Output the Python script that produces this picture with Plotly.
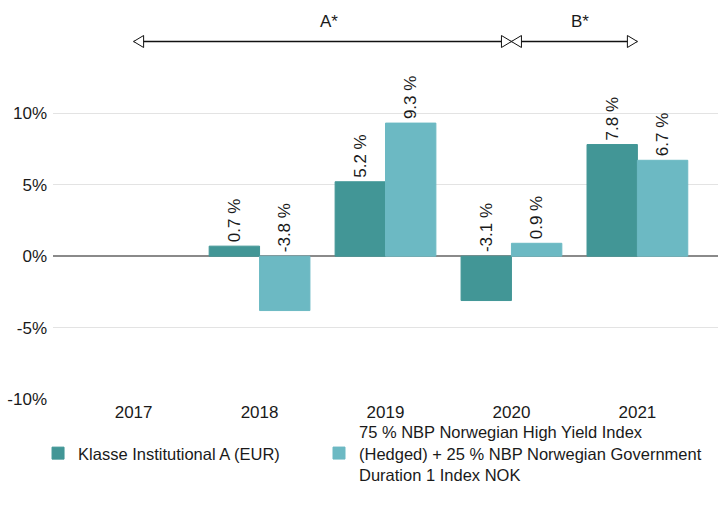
import plotly.graph_objects as go

years = ["2017", "2018", "2019", "2020", "2021"]
fund_name = "Klasse Institutional A (EUR)"
bench_name = "75 % NBP Norwegian High Yield Index<br>(Hedged) + 25 % NBP Norwegian Government<br>Duration 1 Index NOK"
fund_values = [None, 0.7, 5.2, -3.1, 7.8]
bench_values = [None, -3.8, 9.3, 0.9, 6.7]
y_ticks = [-10, -5, 0, 5, 10]
y_ticktext = ["-10%", "-5%", "0%", "5%", "10%"]
periods = [("A*", "2017", "2020"), ("B*", "2020", "2021")]

C_FUND = "#429696"
C_BENCH = "#6cb9c3"
FONT = "Liberation Sans, Arial, sans-serif"
TXT = "#1a1a1a"

fig = go.Figure()
fig.add_trace(go.Bar(x=years, y=fund_values, name=fund_name, legend="legend",
                     marker=dict(color=C_FUND, line=dict(color=C_FUND, width=1))))
fig.add_trace(go.Bar(x=years, y=bench_values, name=bench_name, legend="legend2",
                     marker=dict(color=C_BENCH, line=dict(color=C_BENCH, width=1))))

# value labels (always above the zero line / bar top)
for vals, shift in ((fund_values, -25), (bench_values, 25)):
    for i, v in enumerate(vals):
        if v is None:
            continue
        fig.add_annotation(x=i, y=max(v, 0), xref="x", yref="y",
                           text=f"{v:.1f} %", textangle=-90,
                           showarrow=False, xshift=shift, yshift=2,
                           yanchor="bottom", xanchor="center",
                           font=dict(size=17, color=TXT, family=FONT))

# period arrows
ARROW_Y = 15
shapes = []
for label, a, b in periods:
    ia, ib = years.index(a), years.index(b)
    shapes.append(dict(type="line", xref="x", yref="y", x0=ia, x1=ib, y0=ARROW_Y, y1=ARROW_Y,
                       line=dict(color="#111", width=1.3), layer="above"))
for label, a, b in periods:
    ia, ib = years.index(a), years.index(b)
    shapes.append(dict(type="path", xref="x", yref="y", xsizemode="pixel", ysizemode="pixel",
                       xanchor=ia, yanchor=ARROW_Y, path="M0,0 L10,6 L10,-6 Z",
                       fillcolor="white", line=dict(color="#111", width=1), layer="above"))
    shapes.append(dict(type="path", xref="x", yref="y", xsizemode="pixel", ysizemode="pixel",
                       xanchor=ib, yanchor=ARROW_Y, path="M0,0 L-10,6 L-10,-6 Z",
                       fillcolor="white", line=dict(color="#111", width=1), layer="above"))
    fig.add_annotation(x=(ia + ib) / 2, y=16.4, xref="x", yref="y", text=label,
                       showarrow=False, xshift=6,
                       font=dict(size=17, color=TXT, family=FONT))

leg_common = dict(orientation="h", xanchor="left", yanchor="middle", valign="middle",
                  font=dict(size=16.5, color=TXT, family=FONT), bgcolor="rgba(0,0,0,0)")

fig.update_layout(
    width=724, height=507,
    margin=dict(l=53, r=6, t=0, b=107, autoexpand=False),
    paper_bgcolor="white", plot_bgcolor="white",
    barmode="group", bargap=0.2, bargroupgap=0,
    font=dict(family=FONT, size=17, color=TXT),
    shapes=shapes,
    showlegend=True,
    legend=dict(x=-0.0225, y=-0.1335, **leg_common),
    legend2=dict(x=0.4, y=-0.1335, **leg_common),
    xaxis=dict(type="category", range=[-0.64, 4.64], showgrid=False, showline=False,
               ticks="", tickfont=dict(size=17, color=TXT), fixedrange=True),
    yaxis=dict(range=[-10.05, 17.9], tickvals=y_ticks, ticktext=y_ticktext,
               showgrid=True, gridcolor="#e3e3e3", gridwidth=1,
               zeroline=True, zerolinecolor="#8a8a8a", zerolinewidth=2,
               showline=False, ticks="", ticklabelstandoff=5,
               tickfont=dict(size=17, color=TXT)),
)

fig.write_html("out.html", config={"displayModeBar": False},
               post_script="document.body.style.margin='0';document.body.style.overflow='hidden';")
